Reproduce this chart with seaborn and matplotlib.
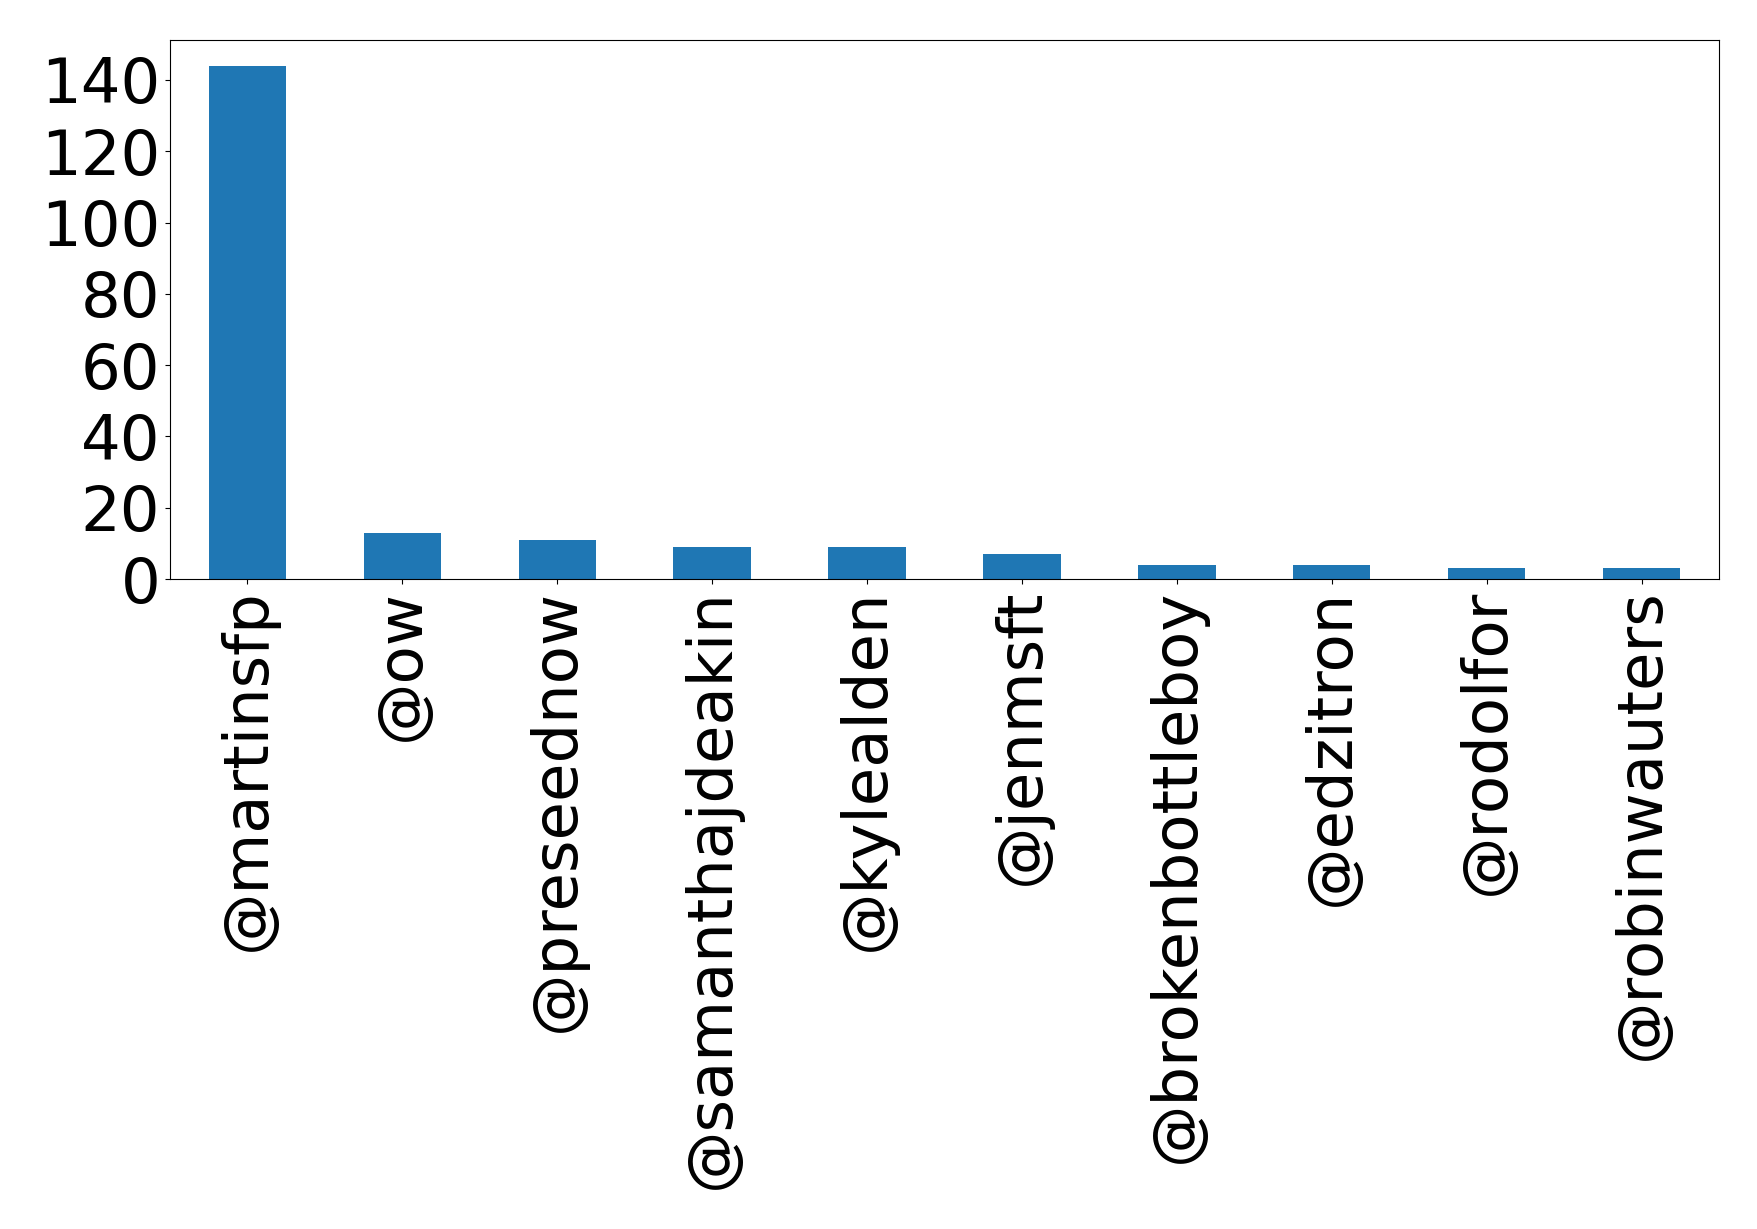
import matplotlib
matplotlib.use("Agg")
import matplotlib.pyplot as plt
import seaborn as sns

users = ["@martinsfp", "@ow", "@preseednow", "@samanthajdeakin", "@kylealden",
         "@jenmsft", "@brokenbottleboy", "@edzitron", "@rodolfor", "@robinwauters"]
counts = [144, 13, 11, 9, 9, 7, 4, 4, 3, 3]

fig = plt.figure(figsize=(17.58, 12.29), dpi=100)
ax = fig.add_axes([170 / 1758, 1 - 579 / 1229, 1549 / 1758, 539 / 1229])

sns.barplot(x=users, y=counts, color="#1f77b4", saturation=1, width=0.5, ax=ax)
ax.set_xlim(-0.5, len(users) - 0.5)
ax.set_ylim(0, max(counts) * 1.05)
ax.set_yticks(range(0, 141, 20))
ax.tick_params(axis="both", labelsize=45)
ax.tick_params(axis="x", labelrotation=90)
ax.set_xlabel("")
ax.set_ylabel("")

fig.savefig("out.png", dpi=100)
